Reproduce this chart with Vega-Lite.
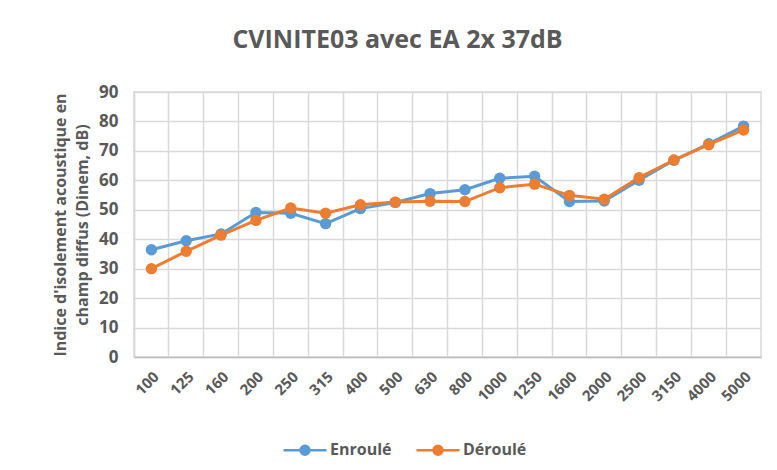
{
  "$schema": "https://vega.github.io/schema/vega-lite/v6.json",
  "autosize": "none",
  "width": 627,
  "height": 265,
  "padding": {"left": 134, "top": 92, "right": 16, "bottom": 113},
  "background": "white",
  "title": {
    "text": "CVINITE03 avec EA 2x 37dB",
    "anchor": "middle",
    "frame": "group",
    "dx": -50,
    "offset": 30,
    "font": "Open Sans",
    "fontSize": 25,
    "fontWeight": "bold",
    "color": "#595959"
  },
  "data": {
    "values": [
      {"freq": "100", "serie": "Enroulé", "val": 36.4},
      {"freq": "125", "serie": "Enroulé", "val": 39.5},
      {"freq": "160", "serie": "Enroulé", "val": 41.8},
      {"freq": "200", "serie": "Enroulé", "val": 49.1},
      {"freq": "250", "serie": "Enroulé", "val": 48.8},
      {"freq": "315", "serie": "Enroulé", "val": 45.3},
      {"freq": "400", "serie": "Enroulé", "val": 50.4},
      {"freq": "500", "serie": "Enroulé", "val": 52.5},
      {"freq": "630", "serie": "Enroulé", "val": 55.5},
      {"freq": "800", "serie": "Enroulé", "val": 56.8},
      {"freq": "1000", "serie": "Enroulé", "val": 60.7},
      {"freq": "1250", "serie": "Enroulé", "val": 61.4},
      {"freq": "1600", "serie": "Enroulé", "val": 52.8},
      {"freq": "2000", "serie": "Enroulé", "val": 53.0},
      {"freq": "2500", "serie": "Enroulé", "val": 60.0},
      {"freq": "3150", "serie": "Enroulé", "val": 66.8},
      {"freq": "4000", "serie": "Enroulé", "val": 72.4},
      {"freq": "5000", "serie": "Enroulé", "val": 78.4},
      {"freq": "100", "serie": "Déroulé", "val": 30.0},
      {"freq": "125", "serie": "Déroulé", "val": 35.9},
      {"freq": "160", "serie": "Déroulé", "val": 41.4},
      {"freq": "200", "serie": "Déroulé", "val": 46.4},
      {"freq": "250", "serie": "Déroulé", "val": 50.6},
      {"freq": "315", "serie": "Déroulé", "val": 48.8},
      {"freq": "400", "serie": "Déroulé", "val": 51.7},
      {"freq": "500", "serie": "Déroulé", "val": 52.6},
      {"freq": "630", "serie": "Déroulé", "val": 52.9},
      {"freq": "800", "serie": "Déroulé", "val": 52.8},
      {"freq": "1000", "serie": "Déroulé", "val": 57.5},
      {"freq": "1250", "serie": "Déroulé", "val": 58.7},
      {"freq": "1600", "serie": "Déroulé", "val": 54.9},
      {"freq": "2000", "serie": "Déroulé", "val": 53.6},
      {"freq": "2500", "serie": "Déroulé", "val": 60.9},
      {"freq": "3150", "serie": "Déroulé", "val": 66.9},
      {"freq": "4000", "serie": "Déroulé", "val": 72.1},
      {"freq": "5000", "serie": "Déroulé", "val": 77.1}
    ]
  },
  "encoding": {
    "y": {
      "field": "val", "type": "quantitative",
      "scale": {"domain": [0, 90], "nice": false},
      "axis": {
        "title": ["Indice d'isolement acoustique en", "champ diffus (Dinem, dB)"],
        "titleFont": "Open Sans", "titleFontSize": 16, "titleFontWeight": "bold",
        "titleColor": "#595959", "titleLineHeight": 22, "titlePadding": 8,
        "values": [0, 10, 20, 30, 40, 50, 60, 70, 80, 90],
        "grid": true, "gridColor": "#d9d9d9", "gridWidth": 1.5,
        "ticks": false, "domainColor": "#d9d9d9", "domainWidth": 1.5,
        "labelFont": "Open Sans", "labelFontSize": 17, "labelFontWeight": "bold",
        "labelColor": "#595959", "labelPadding": 16, "labelOverlap": false
      }
    },
    "color": {
      "field": "serie", "type": "nominal",
      "scale": {"domain": ["Enroulé", "Déroulé"], "range": ["#5B9BD5", "#ED7D31"]},
      "legend": {
        "title": null, "orient": "none", "direction": "horizontal",
        "legendX": 148, "legendY": 335,
        "symbolType": "M-1,0L1,0M0.21,0A0.21,0.21,0,1,1,-0.21,0A0.21,0.21,0,1,1,0.21,0Z",
        "symbolSize": 1849, "symbolStrokeWidth": 2.5,
        "labelFont": "Open Sans", "labelFontSize": 16, "labelFontWeight": "bold",
        "labelColor": "#595959", "columnPadding": 19, "labelOffset": 2,
        "encode": {
          "symbols": {
            "update": {
              "fill": {"scale": "color", "field": "value"},
              "stroke": {"scale": "color", "field": "value"},
              "opacity": {"value": 1}
            }
          }
        }
      }
    }
  },
  "layer": [
    {
      "mark": {"type": "line", "strokeWidth": 3},
      "encoding": {
        "x": {
          "field": "freq", "type": "ordinal", "sort": null, "bandPosition": 0.5,
          "scale": {"type": "band", "paddingInner": 0, "paddingOuter": 0},
          "axis": {
            "title": null, "grid": false, "ticks": false, "domain": true,
            "domainColor": "#bfbfbf", "domainWidth": 1.5,
            "labelAngle": -45, "labelFont": "Open Sans", "labelFontSize": 15,
            "labelFontWeight": "bold", "labelColor": "#595959", "labelPadding": 12,
            "labelOverlap": false
          }
        }
      }
    },
    {
      "mark": {"type": "point", "filled": true, "size": 130, "opacity": 1},
      "encoding": {
        "x": {
          "field": "freq", "type": "ordinal", "sort": null, "bandPosition": 0.5,
          "scale": {"type": "band", "paddingInner": 0, "paddingOuter": 0},
          "axis": {
            "title": null, "grid": true, "gridColor": "#d9d9d9", "gridWidth": 1.5,
            "bandPosition": 0, "labels": false, "ticks": false, "domain": false
          }
        }
      }
    }
  ],
  "resolve": {"axis": {"x": "independent"}},
  "config": {
    "view": {"stroke": "#d9d9d9", "strokeWidth": 1.5}
  }
}
